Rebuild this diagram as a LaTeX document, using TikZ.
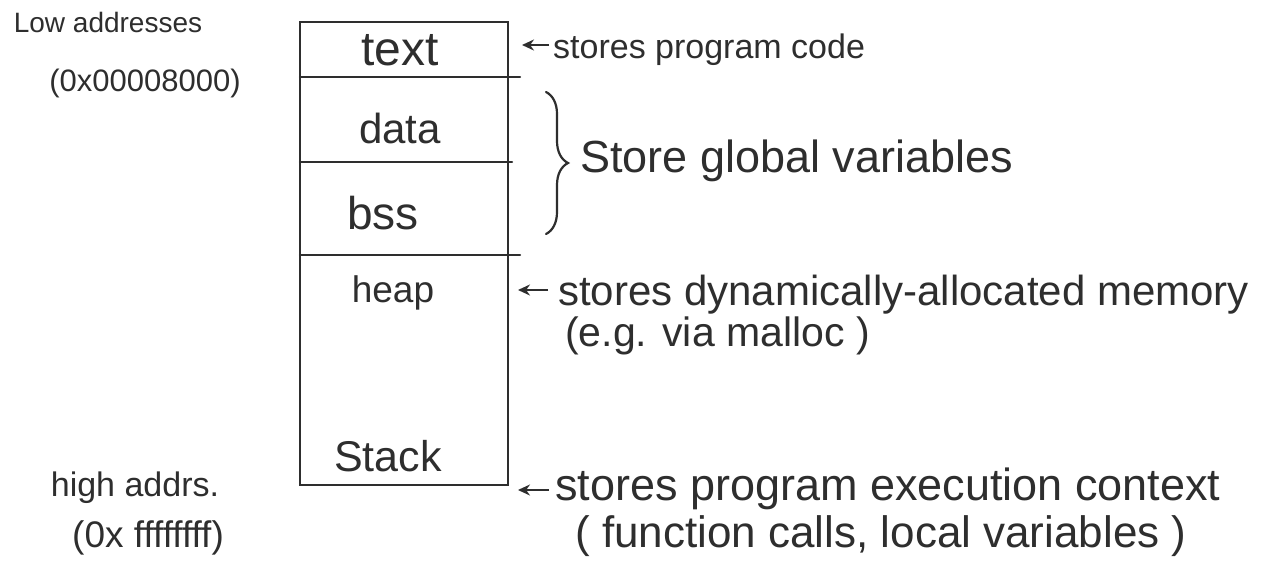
\documentclass[tikz,border=0pt]{standalone}
\usepackage{fontspec}
\setmainfont{Liberation Sans}
\usetikzlibrary{decorations.pathreplacing,arrows.meta}
\definecolor{ink}{HTML}{2E2E2E}
\tikzset{
  wall/.style={draw=ink, line width=2.4pt, line cap=round},
  seglabel/.style={text=ink, font=\fontsize{#1}{#1}\selectfont, inner sep=0pt},
  note/.style={text=ink, font=\fontsize{#1}{#1}\selectfont, inner sep=0pt, anchor=base west},
  addr/.style={text=ink, font=\fontsize{#1}{#1}\selectfont, inner sep=0pt},
  pointer/.style={draw=ink, line width=2pt, -{Stealth[length=12pt,width=11pt]}},
}
\begin{document}
\begin{tikzpicture}[x=1pt,y=-1pt]
\useasboundingbox[fill=white] (0,0) rectangle (1268,560);
% memory column
\draw[wall] (300,22) -- (508,22) -- (508,485) -- (300,485) -- cycle;
\draw[wall] (300,77) -- (520,77);
\draw[wall] (300,162) -- (512,162);
\draw[wall] (300,255) -- (520,255);
% segment labels
\node[seglabel=48] (text) at (400,50) {text};
\node[seglabel=42] (data) at (400,128) {data};
\node[seglabel=46] (bss) at (383,213) {bss};
\node[seglabel=37] (heap) at (393,293) {heap};
\node[seglabel=43] (stack) at (388,456) {Stack};
% address labels
\node[addr=28] (low) at (108,22) {Low addresses};
\node[addr=31] (lowhex) at (145,83) {(0x00008000)};
\node[addr=34] (high) at (135,488) {high addrs.};
\node[addr=37] (highhex) at (148,538) {(0x ffffffff)};
% notes
\node[note=34] (n1) at (553,58) {stores program code};
\node[note=45] (n2) at (580,172) {Store global variables};
\node[note=42] (n3) at (558,305) {stores dynamically-allocated memory};
\node[note=41] (n3b) at (565,346) {(e.g. via malloc )};
\node[note=45] (n4) at (555,500) {stores program execution context};
\node[note=44] (n4b) at (575,547) {( function calls, local variables )};
% pointers
\coordinate (p1) at (522,45);
\coordinate (p3) at (518,290);
\coordinate (p4) at (518,490);
\draw[pointer] ([xshift=-4pt]n1.west |- p1) -- (p1);
\draw[pointer] ([xshift=-10pt]n3.west |- p3) -- (p3);
\draw[pointer] ([xshift=-6pt]n4.west |- p4) -- (p4);
% brace
\draw[wall, line width=2.2pt, decorate,
      decoration={brace, amplitude=22pt}] (546,92) -- (546,234);
\end{tikzpicture}
\end{document}
